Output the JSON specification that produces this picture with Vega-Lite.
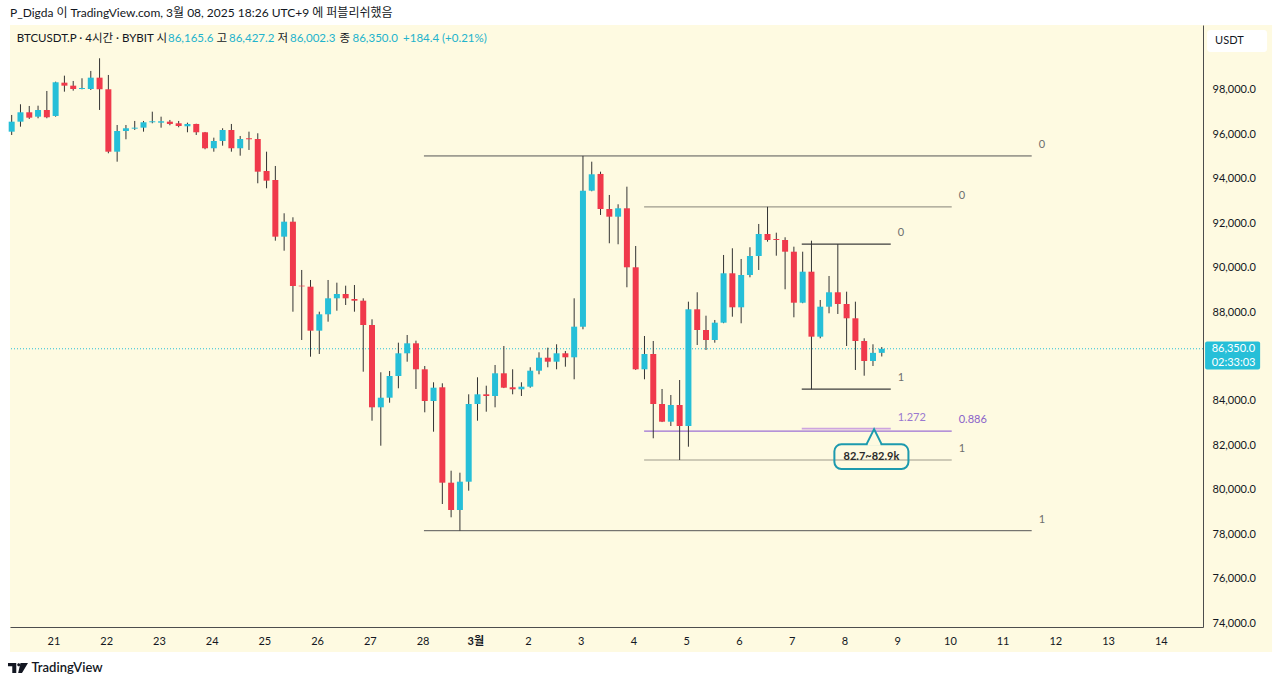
{
  "$schema": "https://vega.github.io/schema/vega-lite/v6.json",
  "width": 1193,
  "height": 602,
  "autosize": {"type": "none"},
  "padding": {"left": 10, "top": 25, "right": 77, "bottom": 58},
  "background": "#ffffff",
  "config": {"view": {"stroke": null}, "font": "Lato, 'Noto Sans CJK KR', sans-serif"},
  "resolve": {"axis": {"x": "independent", "y": "independent"}},
  "datasets": {
    "candles": [
      {"t":"2025-02-20T05:00:00Z","o":96123,"h":96875,"l":95974,"c":96573},
      {"t":"2025-02-20T09:00:00Z","o":96573,"h":97356,"l":96348,"c":96996},
      {"t":"2025-02-20T13:00:00Z","o":96996,"h":97280,"l":96695,"c":96753},
      {"t":"2025-02-20T17:00:00Z","o":96798,"h":97293,"l":96726,"c":97100},
      {"t":"2025-02-20T21:00:00Z","o":97100,"h":97955,"l":96726,"c":96771},
      {"t":"2025-02-21T01:00:00Z","o":96830,"h":98374,"l":96798,"c":98347},
      {"t":"2025-02-21T05:00:00Z","o":98329,"h":98644,"l":97924,"c":98194},
      {"t":"2025-02-21T09:00:00Z","o":98194,"h":98405,"l":97969,"c":98045},
      {"t":"2025-02-21T13:00:00Z","o":98045,"h":98527,"l":98030,"c":98090},
      {"t":"2025-02-21T17:00:00Z","o":98045,"h":98856,"l":98000,"c":98554},
      {"t":"2025-02-21T21:00:00Z","o":98554,"h":99427,"l":97100,"c":98032},
      {"t":"2025-02-22T01:00:00Z","o":98032,"h":98675,"l":95150,"c":95222},
      {"t":"2025-02-22T05:00:00Z","o":95222,"h":96424,"l":94772,"c":96154},
      {"t":"2025-02-22T09:00:00Z","o":96154,"h":96424,"l":95781,"c":96276},
      {"t":"2025-02-22T13:00:00Z","o":96258,"h":96605,"l":96199,"c":96303},
      {"t":"2025-02-22T17:00:00Z","o":96303,"h":96605,"l":96123,"c":96546},
      {"t":"2025-02-22T21:00:00Z","o":96546,"h":97023,"l":96501,"c":96591},
      {"t":"2025-02-23T01:00:00Z","o":96528,"h":96798,"l":96303,"c":96591},
      {"t":"2025-02-23T05:00:00Z","o":96573,"h":96650,"l":96411,"c":96470},
      {"t":"2025-02-23T09:00:00Z","o":96501,"h":96605,"l":96321,"c":96379},
      {"t":"2025-02-23T13:00:00Z","o":96366,"h":96528,"l":96096,"c":96470},
      {"t":"2025-02-23T17:00:00Z","o":96470,"h":96480,"l":95974,"c":96096},
      {"t":"2025-02-23T21:00:00Z","o":96096,"h":96110,"l":95331,"c":95376},
      {"t":"2025-02-24T01:00:00Z","o":95376,"h":95853,"l":95222,"c":95704},
      {"t":"2025-02-24T05:00:00Z","o":95704,"h":96276,"l":95493,"c":96199},
      {"t":"2025-02-24T09:00:00Z","o":96199,"h":96470,"l":95222,"c":95376},
      {"t":"2025-02-24T13:00:00Z","o":95376,"h":95929,"l":95042,"c":95794},
      {"t":"2025-02-24T17:00:00Z","o":95826,"h":96123,"l":95299,"c":95781},
      {"t":"2025-02-24T21:00:00Z","o":95794,"h":96051,"l":93800,"c":94322},
      {"t":"2025-02-25T01:00:00Z","o":94354,"h":95222,"l":93575,"c":93917},
      {"t":"2025-02-25T05:00:00Z","o":93948,"h":94579,"l":91216,"c":91396},
      {"t":"2025-02-25T09:00:00Z","o":91396,"h":92449,"l":90765,"c":92071},
      {"t":"2025-02-25T13:00:00Z","o":92071,"h":92269,"l":88019,"c":89176},
      {"t":"2025-02-25T17:00:00Z","o":89190,"h":89897,"l":86745,"c":89160},
      {"t":"2025-02-25T21:00:00Z","o":89145,"h":89446,"l":85993,"c":87164},
      {"t":"2025-02-26T01:00:00Z","o":87164,"h":88019,"l":86115,"c":87902},
      {"t":"2025-02-26T05:00:00Z","o":87902,"h":89446,"l":87569,"c":88622},
      {"t":"2025-02-26T09:00:00Z","o":88622,"h":89325,"l":88064,"c":88816},
      {"t":"2025-02-26T13:00:00Z","o":88816,"h":89190,"l":88321,"c":88622},
      {"t":"2025-02-26T17:00:00Z","o":88591,"h":89221,"l":88019,"c":88514},
      {"t":"2025-02-26T21:00:00Z","o":88514,"h":88622,"l":85318,"c":87420},
      {"t":"2025-02-27T01:00:00Z","o":87420,"h":87677,"l":83112,"c":83715},
      {"t":"2025-02-27T05:00:00Z","o":83715,"h":85291,"l":81987,"c":84147},
      {"t":"2025-02-27T09:00:00Z","o":84147,"h":85350,"l":83922,"c":85124},
      {"t":"2025-02-27T13:00:00Z","o":85124,"h":86624,"l":84571,"c":86146},
      {"t":"2025-02-27T17:00:00Z","o":86146,"h":86970,"l":85768,"c":86596},
      {"t":"2025-02-27T21:00:00Z","o":86596,"h":86714,"l":84539,"c":85426},
      {"t":"2025-02-28T01:00:00Z","o":85426,"h":85575,"l":83490,"c":83999},
      {"t":"2025-02-28T05:00:00Z","o":83999,"h":84841,"l":82617,"c":84598},
      {"t":"2025-02-28T09:00:00Z","o":84616,"h":84796,"l":79362,"c":80321},
      {"t":"2025-02-28T13:00:00Z","o":80321,"h":80861,"l":78763,"c":79092},
      {"t":"2025-02-28T17:00:00Z","o":79092,"h":80771,"l":78160,"c":80366},
      {"t":"2025-02-28T21:00:00Z","o":80366,"h":84300,"l":79961,"c":83864},
      {"t":"2025-03-01T01:00:00Z","o":83864,"h":85066,"l":83112,"c":84300},
      {"t":"2025-03-01T05:00:00Z","o":84300,"h":84688,"l":83517,"c":84224},
      {"t":"2025-03-01T09:00:00Z","o":84224,"h":85620,"l":83715,"c":85246},
      {"t":"2025-03-01T13:00:00Z","o":85246,"h":86475,"l":84580,"c":84598},
      {"t":"2025-03-01T17:00:00Z","o":84616,"h":85426,"l":84300,"c":84526},
      {"t":"2025-03-01T21:00:00Z","o":84526,"h":84841,"l":84224,"c":84643},
      {"t":"2025-03-02T01:00:00Z","o":84643,"h":85516,"l":84598,"c":85363},
      {"t":"2025-03-02T05:00:00Z","o":85363,"h":86191,"l":85201,"c":85948},
      {"t":"2025-03-02T09:00:00Z","o":85948,"h":86399,"l":85516,"c":85768},
      {"t":"2025-03-02T13:00:00Z","o":85768,"h":86552,"l":85426,"c":86146},
      {"t":"2025-03-02T17:00:00Z","o":86146,"h":86250,"l":85543,"c":85966},
      {"t":"2025-03-02T21:00:00Z","o":85966,"h":88622,"l":84976,"c":87344},
      {"t":"2025-03-03T01:00:00Z","o":87344,"h":95030,"l":87227,"c":93467},
      {"t":"2025-03-03T05:00:00Z","o":93467,"h":94772,"l":93440,"c":94205},
      {"t":"2025-03-03T09:00:00Z","o":94220,"h":94322,"l":92373,"c":92643},
      {"t":"2025-03-03T13:00:00Z","o":92643,"h":93273,"l":91099,"c":92296},
      {"t":"2025-03-03T17:00:00Z","o":92296,"h":92854,"l":91054,"c":92674},
      {"t":"2025-03-03T21:00:00Z","o":92674,"h":93647,"l":89118,"c":90018},
      {"t":"2025-03-04T01:00:00Z","o":90018,"h":90977,"l":85400,"c":85426},
      {"t":"2025-03-04T05:00:00Z","o":85426,"h":86925,"l":84976,"c":86115},
      {"t":"2025-03-04T09:00:00Z","o":86115,"h":86700,"l":82320,"c":83864},
      {"t":"2025-03-04T13:00:00Z","o":83864,"h":84539,"l":83050,"c":83067},
      {"t":"2025-03-04T17:00:00Z","o":83067,"h":84269,"l":82873,"c":83819},
      {"t":"2025-03-04T21:00:00Z","o":83819,"h":84944,"l":81343,"c":82873},
      {"t":"2025-03-05T01:00:00Z","o":82873,"h":88470,"l":81941,"c":88127},
      {"t":"2025-03-05T05:00:00Z","o":88127,"h":88893,"l":86520,"c":87195},
      {"t":"2025-03-05T09:00:00Z","o":87195,"h":87839,"l":86295,"c":86745},
      {"t":"2025-03-05T13:00:00Z","o":86745,"h":87646,"l":86624,"c":87524},
      {"t":"2025-03-05T17:00:00Z","o":87524,"h":90572,"l":87500,"c":89748},
      {"t":"2025-03-05T21:00:00Z","o":89748,"h":90873,"l":87794,"c":88217},
      {"t":"2025-03-06T01:00:00Z","o":88217,"h":90392,"l":87497,"c":89671},
      {"t":"2025-03-06T05:00:00Z","o":89671,"h":90919,"l":89568,"c":90527},
      {"t":"2025-03-06T09:00:00Z","o":90527,"h":91968,"l":89897,"c":91517},
      {"t":"2025-03-06T13:00:00Z","o":91517,"h":92740,"l":91171,"c":91247},
      {"t":"2025-03-06T17:00:00Z","o":91292,"h":91576,"l":90540,"c":91247},
      {"t":"2025-03-06T21:00:00Z","o":91247,"h":91369,"l":89028,"c":90720},
      {"t":"2025-03-07T01:00:00Z","o":90720,"h":90946,"l":87767,"c":88424},
      {"t":"2025-03-07T05:00:00Z","o":88424,"h":90720,"l":88400,"c":89820},
      {"t":"2025-03-07T09:00:00Z","o":89820,"h":91216,"l":84530,"c":86894},
      {"t":"2025-03-07T13:00:00Z","o":86894,"h":88546,"l":86822,"c":88244},
      {"t":"2025-03-07T17:00:00Z","o":88244,"h":89626,"l":87947,"c":88893},
      {"t":"2025-03-07T21:00:00Z","o":88893,"h":91060,"l":87916,"c":88366},
      {"t":"2025-03-08T01:00:00Z","o":88366,"h":88920,"l":86475,"c":87722},
      {"t":"2025-03-08T05:00:00Z","o":87722,"h":88470,"l":85395,"c":86700},
      {"t":"2025-03-08T09:00:00Z","o":86700,"h":86822,"l":85138,"c":85800},
      {"t":"2025-03-08T13:00:00Z","o":85800,"h":86552,"l":85575,"c":86165.6},
      {"t":"2025-03-08T17:00:00Z","o":86165.6,"h":86427.2,"l":86002.3,"c":86350.0}
    ],
    "fibs": [
      {"start":"2025-02-28T00:38:00Z","end":"2025-03-11T13:14:00Z","price":95030,"label":"0","kind":"big"},
      {"start":"2025-02-28T00:38:00Z","end":"2025-03-11T13:14:00Z","price":78160,"label":"1","kind":"big"},
      {"start":"2025-03-04T04:50:00Z","end":"2025-03-10T00:50:00Z","price":92740,"label":"0","kind":"mid"},
      {"start":"2025-03-04T04:50:00Z","end":"2025-03-10T00:50:00Z","price":81343,"label":"1","kind":"mid"},
      {"start":"2025-03-04T04:50:00Z","end":"2025-03-10T00:50:00Z","price":82642,"label":"0.886","kind":"mid886"},
      {"start":"2025-03-07T04:35:00Z","end":"2025-03-08T21:05:00Z","price":91060,"label":"0","kind":"small"},
      {"start":"2025-03-07T04:35:00Z","end":"2025-03-08T21:05:00Z","price":84530,"label":"1","kind":"small"},
      {"start":"2025-03-07T04:35:00Z","end":"2025-03-08T21:05:00Z","price":82754,"label":"1.272","kind":"small1272"}
    ]
  },
  "layer": [
    {
      "data": {"values": [{}]},
      "mark": {"type": "rect", "fill": "#FEFAE1"},
      "encoding": {
        "x": {"datum": {"year":2025,"month":2,"date":20,"hours":4,"minutes":14,"utc":true}, "type": "temporal", "axis": null},
        "x2": {"datum": {"year":2025,"month":3,"date":16,"hours":2,"minutes":38,"utc":true}},
        "y": {"datum": 100925, "type": "quantitative", "axis": null},
        "y2": {"datum": 72699}
      }
    },
    {
      "data": {"name": "fibs"},
      "mark": {"type": "rule"},
      "encoding": {
        "x": {"field": "start", "type": "temporal", "axis": null},
        "x2": {"field": "end"},
        "y": {"field": "price", "type": "quantitative", "axis": null},
        "color": {"field": "kind", "type": "nominal", "scale": {"domain": ["big","mid","small","mid886","small1272"], "range": ["#555555","#9d9a8c","#3c3c3c","#9b6fd4","#cda4df"]}, "legend": null},
        "strokeWidth": {"field": "kind", "type": "nominal", "scale": {"domain": ["big","mid","small","mid886","small1272"], "range": [1,1.6,1,1.2,2]}, "legend": null}
      }
    },
    {
      "data": {"values": [{}]},
      "mark": {"type": "rule", "color": "#26BFD8", "strokeDash": [1, 2], "strokeWidth": 1},
      "encoding": {"y": {"datum": 86350, "type": "quantitative", "axis": null}}
    },
    {
      "data": {"name": "candles"},
      "mark": {"type": "rule", "color": "#333333", "strokeWidth": 1},
      "encoding": {
        "x": {
          "field": "t", "type": "temporal",
          "scale": {"type": "utc", "nice": false, "padding": 0, "domain": [{"year":2025,"month":2,"date":20,"hours":4,"minutes":14,"utc":true}, {"year":2025,"month":3,"date":14,"hours":19,"minutes":12,"utc":true}]},
          "axis": {
            "title": null, "tickCount": {"interval": "day", "step": 1}, "zindex": 1, "orient": "bottom",
            "labelExpr": "utcdate(datum.value) == 1 ? (utcmonth(datum.value) + 1) + '월' : '' + utcdate(datum.value)",
            "labelFontWeight": {"condition": {"test": "utcdate(datum.value) == 1", "value": "bold"}, "value": "normal"},
            "labelFontSize": 11, "labelColor": "#131722", "labelPadding": 8, "ticks": false, "grid": false,
            "domainColor": "#4d4d4d", "labelFlush": false, "labelOverlap": false
          }
        },
        "y": {
          "field": "l", "type": "quantitative",
          "scale": {"domain": [73825, 100925], "nice": false, "zero": false, "padding": 0},
          "axis": {
            "orient": "right", "title": null, "zindex": 1,
            "values": [74000,76000,78000,80000,82000,84000,88000,90000,92000,94000,96000,98000],
            "format": ",.1f", "labelFontSize": 11, "labelColor": "#131722", "labelPadding": 9,
            "ticks": false, "grid": false, "domainColor": "#4d4d4d", "labelFlush": false, "labelOverlap": false
          }
        },
        "y2": {"field": "h"}
      }
    },
    {
      "data": {"name": "candles"},
      "mark": {"type": "bar", "size": 6},
      "encoding": {
        "x": {"field": "t", "type": "temporal", "axis": null},
        "y": {"field": "o", "type": "quantitative", "axis": null},
        "y2": {"field": "c"},
        "color": {"condition": {"test": "datum.c >= datum.o", "value": "#26BFD8"}, "value": "#F0394B"}
      }
    },
    {
      "data": {"name": "fibs"},
      "mark": {"type": "text", "align": "left", "baseline": "middle", "dx": 7, "dy": -11, "fontSize": 11},
      "encoding": {
        "x": {"field": "end", "type": "temporal", "axis": null},
        "y": {"field": "price", "type": "quantitative", "axis": null},
        "text": {"field": "label"},
        "color": {"condition": [{"test": "datum.kind == 'mid886'", "value": "#8a63c9"}, {"test": "datum.kind == 'small1272'", "value": "#9a78d0"}], "value": "#6e6e6e"}
      }
    },
    {
      "data": {"values": [{}]},
      "mark": {"type": "rect", "fillOpacity": 0, "stroke": "#1D9AAE", "strokeWidth": 2, "cornerRadius": 7},
      "encoding": {
        "x": {"datum": {"year":2025,"month":3,"date":7,"hours":19,"minutes":26,"utc":true}, "type": "temporal", "axis": null},
        "x2": {"datum": {"year":2025,"month":3,"date":9,"hours":5,"minutes":8,"utc":true}},
        "y": {"datum": 82050, "type": "quantitative", "axis": null},
        "y2": {"datum": 80938}
      }
    },
    {
      "data": {"values": [{}]},
      "mark": {"type": "rule", "color": "#FEFAE1", "strokeWidth": 3},
      "encoding": {
        "x": {"datum": {"year":2025,"month":3,"date":8,"hours":10,"minutes":32,"utc":true}, "type": "temporal", "axis": null},
        "x2": {"datum": {"year":2025,"month":3,"date":8,"hours":16,"minutes":27,"utc":true}},
        "y": {"datum": 82050, "type": "quantitative", "axis": null}
      }
    },
    {
      "data": {"values": [{}]},
      "mark": {"type": "point", "shape": "M-0.5,0.5L0,-0.5L0.5,0.5", "filled": false, "stroke": "#1D9AAE", "strokeWidth": 2, "size": 900, "opacity": 1},
      "encoding": {
        "x": {"datum": {"year":2025,"month":3,"date":8,"hours":13,"minutes":30,"utc":true}, "type": "temporal", "axis": null},
        "y": {"datum": 82394, "type": "quantitative", "axis": null}
      }
    },
    {
      "data": {"values": [{}]},
      "mark": {"type": "text", "text": "82.7~82.9k", "align": "center", "baseline": "middle", "fontSize": 11, "fontWeight": "bold", "color": "#2a2a2a"},
      "encoding": {
        "x": {"datum": {"year":2025,"month":3,"date":8,"hours":12,"minutes":17,"utc":true}, "type": "temporal", "axis": null},
        "y": {"datum": 81480, "type": "quantitative", "axis": null}
      }
    },
    {
      "data": {"values": [{}]},
      "mark": {"type": "text", "text": "P_Digda 이 TradingView.com, 3월 08, 2025 18:26 UTC+9 에 퍼블리쉬했음", "align": "left", "baseline": "middle", "fontSize": 12, "color": "#131722"},
      "encoding": {
        "x": {"datum": {"year":2025,"month":2,"date":20,"hours":4,"minutes":14,"utc":true}, "type": "temporal", "axis": null},
        "y": {"datum": 101467, "type": "quantitative", "axis": null}
      }
    },
    {
      "data": {"values": [{}]},
      "mark": {"type": "text", "text": "BTCUSDT.P · 4시간 · BYBIT", "align": "left", "baseline": "middle", "fontSize": 11.5, "color": "#131722"},
      "encoding": {
        "x": {"datum": {"year":2025,"month":2,"date":20,"hours":7,"minutes":17,"utc":true}, "type": "temporal", "axis": null},
        "y": {"datum": 100296, "type": "quantitative", "axis": null}
      }
    },
    {
      "data": {"values": [{}]},
      "mark": {"type": "text", "text": "시", "align": "left", "baseline": "middle", "fontSize": 11.5, "color": "#131722"},
      "encoding": {
        "x": {"datum": {"year":2025,"month":2,"date":22,"hours":22,"minutes":55,"utc":true}, "type": "temporal", "axis": null},
        "y": {"datum": 100296, "type": "quantitative", "axis": null}
      }
    },
    {
      "data": {"values": [{}]},
      "mark": {"type": "text", "text": "86,165.6", "align": "left", "baseline": "middle", "fontSize": 11.5, "color": "#22B3CC"},
      "encoding": {
        "x": {"datum": {"year":2025,"month":2,"date":23,"hours":4,"minutes":9,"utc":true}, "type": "temporal", "axis": null},
        "y": {"datum": 100296, "type": "quantitative", "axis": null}
      }
    },
    {
      "data": {"values": [{}]},
      "mark": {"type": "text", "text": "고", "align": "left", "baseline": "middle", "fontSize": 11.5, "color": "#131722"},
      "encoding": {
        "x": {"datum": {"year":2025,"month":2,"date":24,"hours":2,"minutes":13,"utc":true}, "type": "temporal", "axis": null},
        "y": {"datum": 100296, "type": "quantitative", "axis": null}
      }
    },
    {
      "data": {"values": [{}]},
      "mark": {"type": "text", "text": "86,427.2", "align": "left", "baseline": "middle", "fontSize": 11.5, "color": "#22B3CC"},
      "encoding": {
        "x": {"datum": {"year":2025,"month":2,"date":24,"hours":7,"minutes":55,"utc":true}, "type": "temporal", "axis": null},
        "y": {"datum": 100296, "type": "quantitative", "axis": null}
      }
    },
    {
      "data": {"values": [{}]},
      "mark": {"type": "text", "text": "저", "align": "left", "baseline": "middle", "fontSize": 11.5, "color": "#131722"},
      "encoding": {
        "x": {"datum": {"year":2025,"month":2,"date":25,"hours":5,"minutes":59,"utc":true}, "type": "temporal", "axis": null},
        "y": {"datum": 100296, "type": "quantitative", "axis": null}
      }
    },
    {
      "data": {"values": [{}]},
      "mark": {"type": "text", "text": "86,002.3", "align": "left", "baseline": "middle", "fontSize": 11.5, "color": "#22B3CC"},
      "encoding": {
        "x": {"datum": {"year":2025,"month":2,"date":25,"hours":11,"minutes":41,"utc":true}, "type": "temporal", "axis": null},
        "y": {"datum": 100296, "type": "quantitative", "axis": null}
      }
    },
    {
      "data": {"values": [{}]},
      "mark": {"type": "text", "text": "종", "align": "left", "baseline": "middle", "fontSize": 11.5, "color": "#131722"},
      "encoding": {
        "x": {"datum": {"year":2025,"month":2,"date":26,"hours":10,"minutes":13,"utc":true}, "type": "temporal", "axis": null},
        "y": {"datum": 100296, "type": "quantitative", "axis": null}
      }
    },
    {
      "data": {"values": [{}]},
      "mark": {"type": "text", "text": "86,350.0", "align": "left", "baseline": "middle", "fontSize": 11.5, "color": "#22B3CC"},
      "encoding": {
        "x": {"datum": {"year":2025,"month":2,"date":26,"hours":16,"minutes":7,"utc":true}, "type": "temporal", "axis": null},
        "y": {"datum": 100296, "type": "quantitative", "axis": null}
      }
    },
    {
      "data": {"values": [{}]},
      "mark": {"type": "text", "text": "+184.4 (+0.21%)", "align": "left", "baseline": "middle", "fontSize": 11.5, "color": "#22B3CC"},
      "encoding": {
        "x": {"datum": {"year":2025,"month":2,"date":27,"hours":15,"minutes":7,"utc":true}, "type": "temporal", "axis": null},
        "y": {"datum": 100296, "type": "quantitative", "axis": null}
      }
    },
    {
      "data": {"values": [{}]},
      "mark": {"type": "rect", "fill": "#ffffff", "cornerRadius": 3},
      "encoding": {
        "x": {"datum": {"year":2025,"month":3,"date":14,"hours":21,"minutes":4,"utc":true}, "type": "temporal", "axis": null},
        "x2": {"datum": {"year":2025,"month":3,"date":16,"hours":0,"minutes":22,"utc":true}},
        "y": {"datum": 100701, "type": "quantitative", "axis": null},
        "y2": {"datum": 99711}
      }
    },
    {
      "data": {"values": [{}]},
      "mark": {"type": "text", "text": "USDT", "align": "left", "baseline": "middle", "fontSize": 11, "color": "#131722"},
      "encoding": {
        "x": {"datum": {"year":2025,"month":3,"date":15,"hours":0,"minutes":43,"utc":true}, "type": "temporal", "axis": null},
        "y": {"datum": 100206, "type": "quantitative", "axis": null}
      }
    },
    {
      "data": {"values": [{}]},
      "mark": {"type": "rect", "fill": "#26BFD8", "cornerRadius": 2},
      "encoding": {
        "x": {"datum": {"year":2025,"month":3,"date":14,"hours":20,"minutes":9,"utc":true}, "type": "temporal", "axis": null},
        "x2": {"datum": {"year":2025,"month":3,"date":15,"hours":21,"minutes":12,"utc":true}},
        "y": {"datum": 86680, "type": "quantitative", "axis": null},
        "y2": {"datum": 85418}
      }
    },
    {
      "data": {"values": [{}]},
      "mark": {"type": "text", "text": "86,350.0", "align": "left", "baseline": "middle", "fontSize": 11, "color": "#ffffff"},
      "encoding": {
        "x": {"datum": {"year":2025,"month":3,"date":14,"hours":23,"minutes":8,"utc":true}, "type": "temporal", "axis": null},
        "y": {"datum": 86340, "type": "quantitative", "axis": null}
      }
    },
    {
      "data": {"values": [{}]},
      "mark": {"type": "text", "text": "02:33:03", "align": "left", "baseline": "middle", "fontSize": 11, "color": "#ffffff"},
      "encoding": {
        "x": {"datum": {"year":2025,"month":3,"date":14,"hours":23,"minutes":8,"utc":true}, "type": "temporal", "axis": null},
        "y": {"datum": 85697, "type": "quantitative", "axis": null}
      }
    },
    {
      "data": {"values": [{}]},
      "mark": {"type": "point", "shape": "M-1,-0.5H-0.17V0.5H-0.57V-0.17H-1Z M-0.08,-0.33a0.15,0.15 0 1,0 0.3,0a0.15,0.15 0 1,0 -0.3,0Z M0.25,-0.5H1L0.4,0.5H0.02Z", "filled": true, "color": "#131722", "size": 400, "opacity": 1},
      "encoding": {
        "x": {"datum": {"year":2025,"month":2,"date":20,"hours":7,"minutes":52,"utc":true}, "type": "temporal", "axis": null},
        "y": {"datum": 71979, "type": "quantitative", "axis": null}
      }
    },
    {
      "data": {"values": [{}]},
      "mark": {"type": "text", "text": "TradingView", "align": "left", "baseline": "middle", "fontSize": 13, "fontWeight": 600, "color": "#131722"},
      "encoding": {
        "x": {"datum": {"year":2025,"month":2,"date":20,"hours":14,"minutes":1,"utc":true}, "type": "temporal", "axis": null},
        "y": {"datum": 71979, "type": "quantitative", "axis": null}
      }
    }
  ]
}
